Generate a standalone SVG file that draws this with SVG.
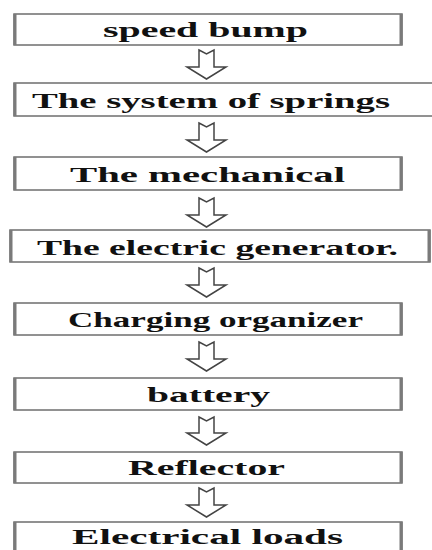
<svg xmlns="http://www.w3.org/2000/svg" width="432" height="550" viewBox="0 0 432 550">
<style>
.box{fill:#fff;stroke:#6e6e6e;stroke-width:1.5}
.side{fill:none;stroke:#7a7a7a;stroke-width:3}
.lbl{font-family:"Liberation Serif","Times New Roman",serif;font-weight:bold;font-size:21px;fill:#111}
.arr{fill:#fff;stroke:#444;stroke-width:1.5;stroke-linejoin:miter}
</style>
<rect width="432" height="550" fill="#fff"/>
<g id="connectors">
<path class="arr" d="M199,50 L206.5,54 L214,50 L214,67 L226,67 L206.5,79 L187,67 L199,67 Z"/>
<path class="arr" d="M199,123 L206.5,127 L214,123 L214,140 L226,140 L206.5,152 L187,140 L199,140 Z"/>
<path class="arr" d="M199,198 L206.5,202 L214,198 L214,215 L226,215 L206.5,227 L187,215 L199,215 Z"/>
<path class="arr" d="M199,268 L206.5,272 L214,268 L214,285 L226,285 L206.5,297 L187,285 L199,285 Z"/>
<path class="arr" d="M199,342 L206.5,346 L214,342 L214,359 L226,359 L206.5,371 L187,359 L199,359 Z"/>
<path class="arr" d="M199,417 L206.5,421 L214,417 L214,433 L226,433 L206.5,445 L187,433 L199,433 Z"/>
<path class="arr" d="M199,488 L206.5,492 L214,488 L214,505 L226,505 L206.5,517 L187,505 L199,505 Z"/>
</g>
<g id="n1">
<rect class="box" x="14" y="14" width="388" height="31"/>
<path class="side" d="M15,14V45M401,14V45"/>
<text class="lbl" x="103" y="37" textLength="205" lengthAdjust="spacingAndGlyphs">speed bump</text>
</g>
<g id="n2">
<rect class="box" x="14" y="83" width="424" height="33"/>
<path class="side" d="M15,83V116"/>
<text class="lbl" x="32" y="108" textLength="358" lengthAdjust="spacingAndGlyphs">The system of springs</text>
</g>
<g id="n3">
<rect class="box" x="14" y="157" width="388" height="33"/>
<path class="side" d="M15,157V190M401,157V190"/>
<text class="lbl" x="70" y="182" textLength="275" lengthAdjust="spacingAndGlyphs">The mechanical</text>
</g>
<g id="n4">
<rect class="box" x="10" y="230" width="420" height="32"/>
<path class="side" d="M11,230V262M429,230V262"/>
<text class="lbl" x="37" y="255" textLength="361" lengthAdjust="spacingAndGlyphs">The electric generator.</text>
</g>
<g id="n5">
<rect class="box" x="14" y="303" width="388" height="32"/>
<path class="side" d="M15,303V335M401,303V335"/>
<text class="lbl" x="68" y="327" textLength="295" lengthAdjust="spacingAndGlyphs">Charging organizer</text>
</g>
<g id="n6">
<rect class="box" x="14" y="378" width="388" height="32"/>
<path class="side" d="M15,378V410M401,378V410"/>
<text class="lbl" x="147" y="402" textLength="123" lengthAdjust="spacingAndGlyphs">battery</text>
</g>
<g id="n7">
<rect class="box" x="14" y="452" width="388" height="31"/>
<path class="side" d="M15,452V483M401,452V483"/>
<text class="lbl" x="128" y="475" textLength="157" lengthAdjust="spacingAndGlyphs">Reflector</text>
</g>
<g id="n8">
<rect class="box" x="14" y="522" width="388" height="34"/>
<path class="side" d="M15,522V556M401,522V556"/>
<text class="lbl" x="72" y="544" font-size="20" style="font-size:20px" textLength="271" lengthAdjust="spacingAndGlyphs">Electrical loads</text>
</g>
</svg>
